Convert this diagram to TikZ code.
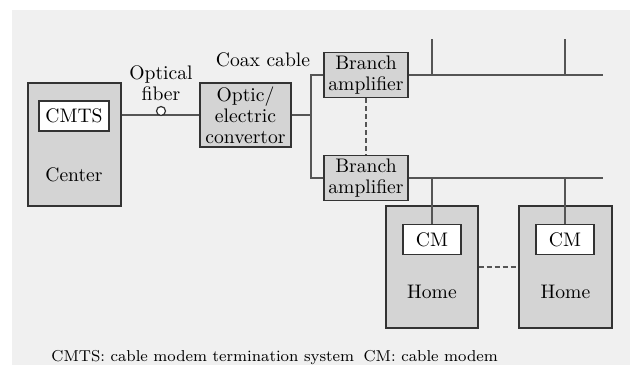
\documentclass[tikz,border=0pt]{standalone}
\definecolor{bggray}{HTML}{F0F0F0}
\definecolor{boxgray}{HTML}{D4D4D4}
\definecolor{linegray}{HTML}{555555}
\definecolor{edgegray}{HTML}{333333}
\begin{document}
\begin{tikzpicture}[x=0.5pt, y=-0.5pt,
    font=\fontsize{9.8}{10.5}\selectfont,
    site/.style={draw=edgegray, fill=boxgray, line width=0.6pt, inner sep=0pt},
    unit/.style={draw=edgegray, fill=boxgray, line width=0.6pt, align=center, inner sep=0pt},
    modem/.style={draw=edgegray, fill=white, line width=0.6pt, inner sep=0pt, minimum height=15pt},
    cable/.style={draw=linegray, line width=1.35pt}]
    \useasboundingbox (0,0) rectangle (630,365);
    \fill[bggray] (12,10) rectangle (630,365);

    \node[site, minimum width=46.5pt, minimum height=61.5pt] at (74.5,144.5) (center) {};
    \node[modem, minimum width=35pt] at (74,116) (cmts) {CMTS};
    \node at (74,175) (centertxt) {Center};
    \node[unit, minimum width=45.5pt, minimum height=32pt] at (245.5,115) (conv) {Optic/\\electric\\convertor};
    \node[unit, minimum width=42pt, minimum height=22.5pt] at (366,75) (amp1) {Branch\\amplifier};
    \node[unit, minimum width=42pt, minimum height=22.5pt] at (366,178) (amp2) {Branch\\amplifier};
    \node[site, minimum width=46pt, minimum height=61pt] at (432,267) (home1) {};
    \node[site, minimum width=46.5pt, minimum height=61pt] at (565.5,267) (home2) {};
    \node[modem, minimum width=29pt] at (432,239.5) (cm1) {CM};
    \node[modem, minimum width=29pt] at (565,239.5) (cm2) {CM};
    \node at (432,292) (hometxt1) {Home};
    \node at (565.5,292) (hometxt2) {Home};

    \node[align=center] at (161,83) (fibertxt) {Optical\\fiber};
    \node at (263,60) (coaxtxt) {Coax cable};
    \node[anchor=base west, inner sep=0pt, font=\fontsize{7.9}{10}\selectfont] at (51,361) (legend) {CMTS: cable modem termination system\hspace{0.6em}CM: cable modem};

    \coordinate (tap) at (311,115);
    \coordinate (end1) at (603,75);
    \coordinate (end2) at (603,178);
    \coordinate (drop1) at (432,39);
    \coordinate (drop2) at (565,39);

    % optical fiber
    \draw[cable] (center.east |- conv.west) -- (conv.west);
    \node[circle, draw=edgegray, fill=white, line width=0.6pt, minimum size=4.5pt, inner sep=0pt] at (161,111) (fiber) {};

    % coax cable
    \draw[cable] (conv.east) -- (tap);
    \draw[cable] (amp1.west) -| (tap) |- (amp2.west);
    \draw[cable] (amp1.east) -- (end1);
    \draw[cable] (drop1) -- (drop1 |- amp1.east);
    \draw[cable] (drop2) -- (drop2 |- amp1.east);
    \draw[cable] (amp2.east) -- (end2);
    \draw[cable] (cm1.north |- amp2.east) -- (cm1.north);
    \draw[cable] (cm2.north |- amp2.east) -- (cm2.north);
    \draw[cable, dashed, dash pattern=on 2.5pt off 1.5pt] (amp1.south) -- (amp2.north);
    \draw[cable, dashed, dash pattern=on 2.5pt off 1.5pt] (home1.east) -- (home2.west);
  \end{tikzpicture}
\end{document}
